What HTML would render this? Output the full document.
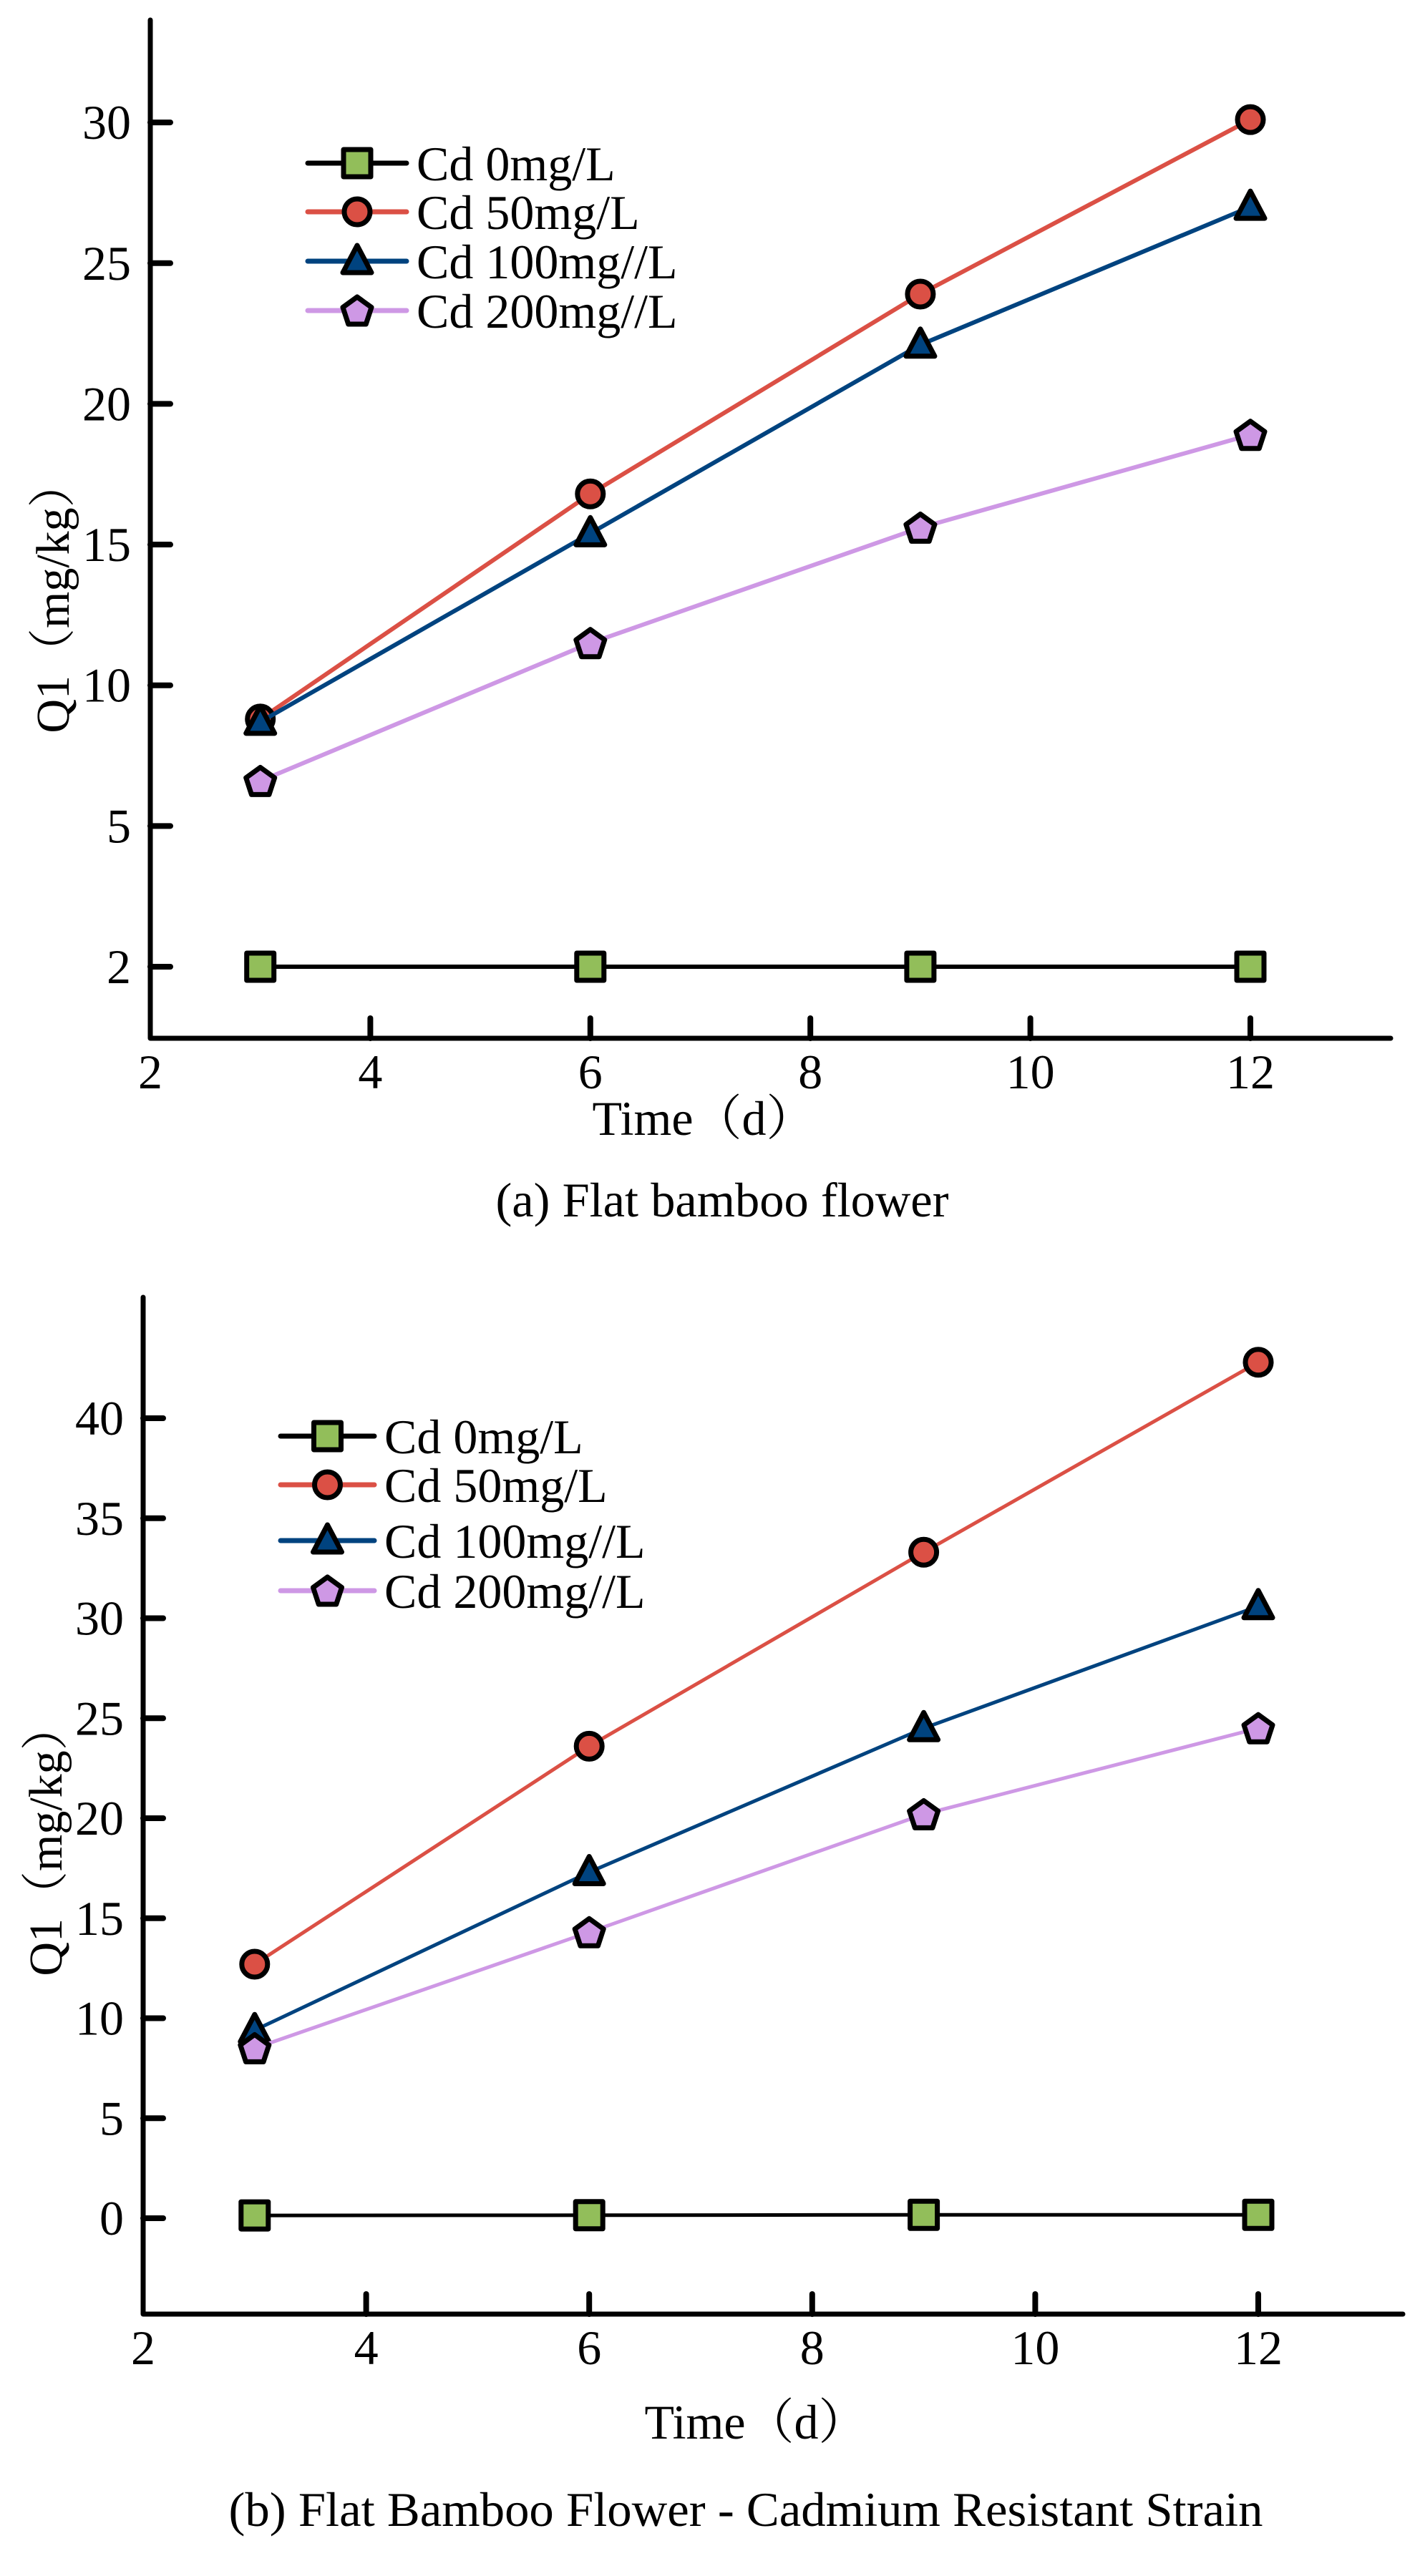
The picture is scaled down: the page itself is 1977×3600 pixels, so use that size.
<!DOCTYPE html>
<html><head><meta charset="utf-8"><style>
html,body{margin:0;padding:0;background:#fff;}
svg{display:block;}
text{font-family:"Liberation Serif","Noto Serif CJK SC",serif;fill:#000;}
</style></head><body>
<svg id="fig" width="1977" height="3600" viewBox="0 0 1977 3600" xmlns="http://www.w3.org/2000/svg"></svg>
<script>
const days = [3, 6, 9, 12];
const seriesNames = ["Cd 0mg/L", "Cd 50mg/L", "Cd 100mg//L", "Cd 200mg//L"];
const aCd0 = [0, 0, 0, 0];
const aCd50 = [8.8, 16.8, 23.9, 30.1];
const aCd100 = [8.7, 15.4, 22.1, 27.0];
const aCd200 = [6.6, 11.5, 15.6, 18.9];
const bCd0 = [0.14, 0.15, 0.17, 0.17];
const bCd50 = [12.7, 23.6, 33.3, 42.8];
const bCd100 = [9.4, 17.3, 24.5, 30.6];
const bCd200 = [8.5, 14.3, 20.2, 24.5];
const xTicks = [2, 4, 6, 8, 10, 12];
const xTickLabels = ["2", "4", "6", "8", "10", "12"];
const aYTicks = [0, 5, 10, 15, 20, 25, 30];
const aYTickLabels = ["2", "5", "10", "15", "20", "25", "30"];
const bYTicks = [0, 5, 10, 15, 20, 25, 30, 35, 40];
const bYTickLabels = ["0", "5", "10", "15", "20", "25", "30", "35", "40"];

const NS = "http://www.w3.org/2000/svg";
const svg = document.getElementById("fig");
const colors = ["#000000", "#DB5045", "#00437F", "#CE98E5"];
const fills = ["#92BE5A", "#DB5045", "#00437F", "#CE98E5"];
const shapes = ["square", "circle", "triangle", "pentagon"];

function mk(tag, attrs, parent) {
  const e = document.createElementNS(NS, tag);
  for (const k in attrs) e.setAttribute(k, attrs[k]);
  (parent || svg).appendChild(e);
  return e;
}
function marker(g, shape, cx, cy, fill) {
  let e;
  if (shape === "square") {
    e = mk("rect", {x: cx - 19, y: cy - 19, width: 38, height: 38, fill: fill, stroke: "#000", "stroke-width": 7, "stroke-linejoin": "round"}, g);
  } else if (shape === "circle") {
    e = mk("circle", {cx: cx, cy: cy, r: 18, fill: fill, stroke: "#000", "stroke-width": 7}, g);
  } else if (shape === "triangle") {
    e = mk("polygon", {points: `${cx},${cy - 22} ${cx + 20},${cy + 16} ${cx - 20},${cy + 16}`, fill: fill, stroke: "#000", "stroke-width": 7, "stroke-linejoin": "round"}, g);
  } else {
    const pts = [];
    for (let i = 0; i < 5; i++) {
      const a = -Math.PI / 2 + i * 2 * Math.PI / 5;
      pts.push((cx + 21 * Math.cos(a)).toFixed(1) + "," + (cy + 2 + 21 * Math.sin(a)).toFixed(1));
    }
    e = mk("polygon", {points: pts.join(" "), fill: fill, stroke: "#000", "stroke-width": 7, "stroke-linejoin": "round"}, g);
  }
  return e;
}

function drawChart(cfg) {
  const g = mk("g", {});
  
  
  const X = v => cfg.x0 + (v - 2) * cfg.xUnit;
  const Y = v => cfg.y0 - v * cfg.yUnit;
  const ax = mk("path", {d: `M${cfg.x0},${cfg.top} L${cfg.x0},${cfg.bottom} L${cfg.right},${cfg.bottom}`, fill: "none", stroke: "#000", "stroke-width": 7, "stroke-linejoin": "round", "stroke-linecap": "round"}, g);
  
  
  cfg.yTicks.forEach((v, i) => {
    const t = mk("line", {x1: cfg.x0, x2: cfg.x0 + 28, y1: Y(v), y2: Y(v), stroke: "#000", "stroke-width": 8, "stroke-linecap": "round"}, g);
    
    
    const l = mk("text", {x: cfg.x0 - 27, y: Y(v) + 23, "font-size": 68, "text-anchor": "end"}, g);
    l.textContent = cfg.yLabels[i];
    
    
  });
  xTicks.forEach((v, i) => {
    if (v !== 2) {
      const t = mk("line", {x1: X(v), x2: X(v), y1: cfg.bottom, y2: cfg.bottom - 28, stroke: "#000", "stroke-width": 8, "stroke-linecap": "round"}, g);
      
      
    }
    const l = mk("text", {x: X(v), y: cfg.bottom + 70, "font-size": 68, "text-anchor": "middle"}, g);
    l.textContent = xTickLabels[i];
    
    
  });
  cfg.series.forEach((vals, s) => {
    const sg = mk("g", {}, g);
    
    
    const pts = vals.map((v, i) => X(days[i]) + "," + Y(v)).join(" ");
    const pl = mk("polyline", {points: pts, fill: "none", stroke: colors[s], "stroke-width": cfg.lw, "stroke-linejoin": "round"}, sg);
    
    
    vals.forEach((v, i) => {
      const m = marker(sg, shapes[s], X(days[i]), Y(v), fills[s]);
      
      
    });
  });
  const lg = mk("g", {}, g);
  
  
  cfg.legRows.forEach((ry, s) => {
    const eg = mk("g", {}, lg);
    
    
    mk("line", {x1: cfg.legX1, x2: cfg.legX2, y1: ry, y2: ry, stroke: colors[s], "stroke-width": 7, "stroke-linecap": "round"}, eg);
    marker(eg, shapes[s], (cfg.legX1 + cfg.legX2) / 2, ry, fills[s]);
    const t = mk("text", {x: cfg.legX2 + 14, y: ry + 24, "font-size": 68}, eg);
    t.textContent = seriesNames[s];
  });
  const yt = mk("text", {x: 0, y: 0, "font-size": 66, "text-anchor": "middle", transform: `translate(${cfg.yTitleX},${cfg.yTitleY}) rotate(-90)`}, g);
  yt.textContent = "Q1（mg/kg）";
  
  
  const xt = mk("text", {x: cfg.xTitleX, y: cfg.xTitleY, "font-size": 68, "text-anchor": "middle"}, g);
  xt.textContent = "Time（d）";
  
  
  const cp = mk("text", {x: cfg.capX, y: cfg.capY, "font-size": 68, "text-anchor": "middle", textLength: cfg.capW, lengthAdjust: "spacingAndGlyphs"}, g);
  cp.textContent = cfg.caption;
  
  
}

drawChart({
  name: "chart-a", x0: 210, xUnit: 153.7, y0: 1351, yUnit: 39.33, top: 28, bottom: 1451, right: 1943, lw: 6,
  yTicks: aYTicks, yLabels: aYTickLabels, series: [aCd0, aCd50, aCd100, aCd200],
  legRows: [228, 296, 365, 434], legX1: 430, legX2: 568,
  yTitleX: 96, yTitleY: 834, xTitleX: 983, xTitleY: 1586,
  capX: 1009, capY: 1700, capW: 633, caption: "(a) Flat bamboo flower"
});
drawChart({
  name: "chart-b", x0: 200, xUnit: 155.8, y0: 3100, yUnit: 27.95, top: 1813, bottom: 3234, right: 1960, lw: 5,
  yTicks: bYTicks, yLabels: bYTickLabels, series: [bCd0, bCd50, bCd100, bCd200],
  legRows: [2007, 2075, 2153, 2223], legX1: 392, legX2: 523,
  yTitleX: 86, yTitleY: 2571, xTitleX: 1056, xTitleY: 3408,
  capX: 1042, capY: 3530, capW: 1445, caption: "(b) Flat Bamboo Flower - Cadmium Resistant Strain"
});
</script>
</body></html>
